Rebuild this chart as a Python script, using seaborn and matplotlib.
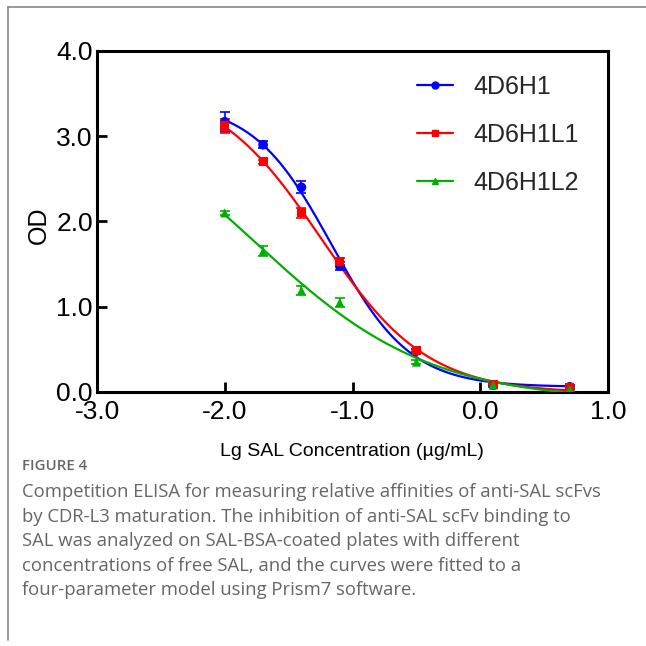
import numpy as np
import matplotlib
matplotlib.use("Agg")
import matplotlib.pyplot as plt
import seaborn as sns
import pandas as pd
from matplotlib.lines import Line2D

# ---- data ----
log_conc = [-2.0, -1.7, -1.4, -1.1, -0.5, 0.1, 0.7]
series_names = ["4D6H1", "4D6H1L1", "4D6H1L2"]
od_h1 = [3.17, 2.90, 2.40, 1.48, 0.48, 0.08, 0.06]
err_h1 = [0.12, 0.04, 0.07, 0.05, 0.02, 0.02, 0.02]
od_l1 = [3.12, 2.70, 2.10, 1.53, 0.49, 0.09, 0.05]
err_l1 = [0.08, 0.02, 0.06, 0.04, 0.02, 0.02, 0.02]
od_l2 = [2.10, 1.65, 1.19, 1.05, 0.35, 0.08, 0.03]
err_l2 = [0.02, 0.06, 0.05, 0.05, 0.02, 0.02, 0.02]
colors = ["#0000ff", "#ff0000", "#00b000"]
markers = ["o", "s", "^"]
x_ticks = [-3.0, -2.0, -1.0, 0.0, 1.0]
y_ticks = [0.0, 1.0, 2.0, 3.0, 4.0]

caption_title = "FIGURE 4"
caption_lines = [
    "Competition ELISA for measuring relative affinities of anti-SAL scFvs",
    "by CDR-L3 maturation. The inhibition of anti-SAL scFv binding to",
    "SAL was analyzed on SAL-BSA-coated plates with different",
    "concentrations of free SAL, and the curves were fitted to a",
    "four-parameter model using Prism7 software.",
]


def four_pl(x, p):
    bottom, top, logec50, hill = p
    return bottom + (top - bottom) / (1.0 + 10.0 ** ((x - logec50) * hill))


def fit_four_pl(x, y, p0):
    x = np.asarray(x, float)
    y = np.asarray(y, float)
    p = np.asarray(p0, float)
    lam = 1e-2
    for _ in range(400):
        r = y - four_pl(x, p)
        J = np.zeros((len(x), len(p)))
        for i in range(len(p)):
            dp = np.zeros_like(p)
            dp[i] = 1e-6
            J[:, i] = (four_pl(x, p + dp) - four_pl(x, p - dp)) / 2e-6
        A = J.T @ J
        g = J.T @ r
        step = np.linalg.solve(A + lam * np.diag(np.diag(A) + 1e-9), g)
        pn = p + step
        if np.sum((y - four_pl(x, pn)) ** 2) < np.sum(r ** 2):
            p = pn
            lam *= 0.5
        else:
            lam *= 4
    return p


sns.set_theme(style="white")
plt.rcParams["font.family"] = ["Liberation Sans", "DejaVu Sans"]

fig = plt.figure(figsize=(6.46, 6.46), dpi=100)
ax = fig.add_axes([0.1502, 0.3932, 0.7910, 0.5279])

all_y = [od_h1, od_l1, od_l2]
all_e = [err_h1, err_l1, err_l2]
p0s = [[0.06, 3.4, -1.3, 1.5], [0.06, 3.4, -1.35, 1.2], [0.0, 3.0, -1.5, 0.8]]
xs = np.linspace(min(log_conc), max(log_conc), 300)

handles = []
for name, yv, ev, c, m, p0 in zip(series_names, all_y, all_e, colors, markers, p0s):
    p = fit_four_pl(log_conc, yv, p0)
    curve = pd.DataFrame({"x": xs, "y": four_pl(xs, p)})
    sns.lineplot(data=curve, x="x", y="y", ax=ax, color=c, lw=1.6, zorder=3)
    ax.errorbar(log_conc, yv, yerr=ev, fmt="none", ecolor=c, elinewidth=1.2,
                capsize=3.5, capthick=1.2, zorder=4)
    ms = 7 if m == "o" else 6.5
    pts = pd.DataFrame({"x": log_conc, "y": yv})
    sns.scatterplot(data=pts, x="x", y="y", ax=ax, color=c, marker=m,
                    s=ms ** 2, edgecolor="none", zorder=5)
    handles.append(Line2D([0], [0], color=c, lw=1.6, marker=m, markersize=5))

ax.set_xlim(-3.0, 1.0)
ax.set_ylim(0.0, 4.0)
ax.set_xticks(x_ticks)
ax.set_yticks(y_ticks)
ax.set_xticklabels([f"{v:.1f}" for v in x_ticks])
ax.set_yticklabels([f"{v:.1f}" for v in y_ticks])
ax.tick_params(direction="in", length=7, width=2.0, labelsize=19,
               colors="black", bottom=True, left=True)
ax.tick_params(axis="x", pad=6)
ax.tick_params(axis="y", pad=3)
for s in ax.spines.values():
    s.set_visible(True)
    s.set_linewidth(2.2)
    s.set_color("black")
ax.set_xlabel("")
ax.set_ylabel("")

fig.text(352 / 646, 1 - 452 / 646, "Lg SAL Concentration (µg/mL)", ha="center",
         va="center", fontsize=14, color="black")
fig.text(39 / 646, 1 - 225 / 646, "OD", rotation=90, ha="center", va="center",
         fontsize=18, color="black")

leg = ax.legend(handles=handles, labels=series_names, loc="upper left",
                bbox_to_anchor=(417 / 646, 1 - 75 / 646),
                bbox_transform=fig.transFigure, frameon=False, fontsize=18,
                handlelength=1.45, handletextpad=0.8, labelspacing=0.95,
                borderpad=0, borderaxespad=0)

# frame lines of the figure panel
fig.add_artist(Line2D([8 / 646, 8 / 646], [1 - 7 / 646, 1 - 640 / 646],
                      transform=fig.transFigure, color="#888888", lw=1.2))
fig.add_artist(Line2D([8 / 646, 1.0], [1 - 7 / 646, 1 - 7 / 646],
                      transform=fig.transFigure, color="#888888", lw=1.2))

fig.text(22 / 646, 1 - 466 / 646, caption_title, ha="left", va="center",
         fontsize=10.8, color="#666666", family="Open Sans", fontweight="semibold")
for i, line in enumerate(caption_lines):
    fig.text(22 / 646, 1 - (492 + 24.6 * i) / 646, line, ha="left", va="center",
             fontsize=13.3, color="#666666", family="Open Sans")

fig.savefig("out.png", dpi=100, facecolor="white")
